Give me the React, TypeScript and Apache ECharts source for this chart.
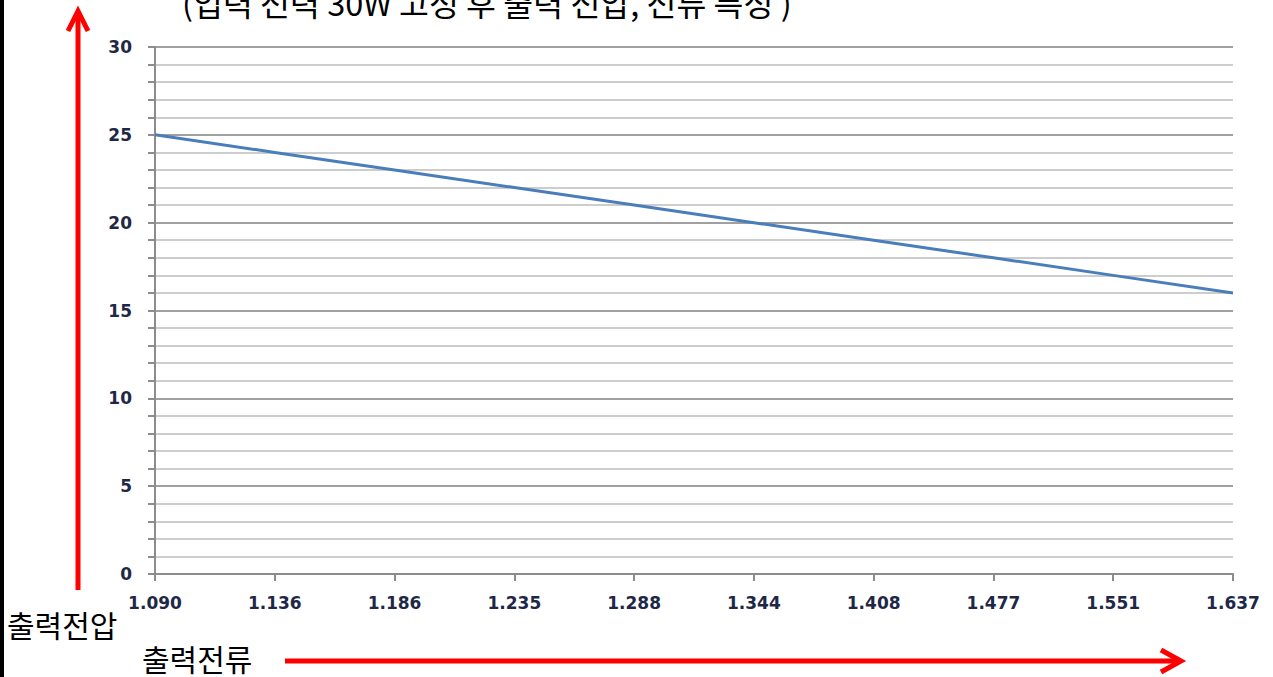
import React, { useEffect, useRef } from "react";
import * as echarts from "echarts";

const categories = ["1.090", "1.136", "1.186", "1.235", "1.288", "1.344", "1.408", "1.477", "1.551", "1.637"];
const voltage = [25, 24, 23, 22, 21, 20, 19, 18, 17, 16];
const titleText = "(입력 전력 30W 고정 후 출력 전압, 전류 특성 )";
const yLabel = "출력전압";
const xLabel = "출력전류";

export default function App() {
  const ref = useRef<HTMLDivElement>(null);
  useEffect(() => {
    if (!ref.current) return;
    const chart = echarts.init(ref.current, null, { renderer: "svg" });
    const red = "#ff0000";
    const labelStyle = {
      color: "#1e2846",
      fontFamily: "DejaVu Sans",
      fontSize: 17,
      fontWeight: "bold",
    };
    chart.setOption({
      animation: false,
      backgroundColor: "#ffffff",
      grid: { left: 155, right: 40, top: 47, bottom: 103, containLabel: false },
      xAxis: {
        type: "category",
        data: categories,
        boundaryGap: false,
        axisLine: { lineStyle: { color: "#8c8c8c", width: 2 } },
        axisTick: { show: true, length: 7, lineStyle: { color: "#8c8c8c", width: 2 } },
        axisLabel: {
          ...labelStyle,
          margin: 20,
          showMinLabel: true,
          showMaxLabel: true,
          interval: 0,
        },
        splitLine: { show: false },
      },
      yAxis: {
        type: "value",
        min: 0,
        max: 30,
        interval: 5,
        axisLine: { show: true, lineStyle: { color: "#8c8c8c", width: 2 } },
        axisTick: { show: true, length: 7, lineStyle: { color: "#8c8c8c", width: 2 } },
        minorTick: { show: true, splitNumber: 5, length: 7, lineStyle: { color: "#8c8c8c", width: 2 } },
        axisLabel: {
          ...labelStyle,
          margin: 23,
        },
        splitLine: { show: true, lineStyle: { color: "#a0a0a0", width: 2 } },
        minorSplitLine: { show: true, lineStyle: { color: "#cdcdcd", width: 2 } },
      },
      series: [
        {
          type: "line",
          data: voltage,
          showSymbol: false,
          symbol: "none",
          lineStyle: { color: "#4a7ebb", width: 3 },
        },
      ],
      graphic: [
        { type: "rect", shape: { x: 0, y: 0, width: 4, height: 677 }, style: { fill: "#000" } },
        {
          type: "text",
          x: 182,
          y: 1,
          style: {
            text: titleText,
            font: "32.5px 'Noto Sans CJK KR'",
            fill: "#000",
            verticalAlign: "middle",
            align: "left",
          },
        },
        {
          type: "line",
          shape: { x1: 78, y1: 590, x2: 78, y2: 12 },
          style: { stroke: red, lineWidth: 5 },
        },
        {
          type: "polyline",
          shape: { points: [[68, 31], [78, 11], [88, 31]] },
          style: { stroke: red, lineWidth: 5, fill: "none", lineJoin: "miter" },
        },
        {
          type: "line",
          shape: { x1: 285, y1: 661, x2: 1180, y2: 661 },
          style: { stroke: red, lineWidth: 5 },
        },
        {
          type: "polyline",
          shape: { points: [[1161, 650], [1181, 661], [1161, 672]] },
          style: { stroke: red, lineWidth: 5, fill: "none", lineJoin: "miter" },
        },
        {
          type: "text",
          x: 7,
          y: 624,
          style: { text: yLabel, font: "30px 'Noto Sans CJK KR'", fill: "#000", verticalAlign: "middle" },
        },
        {
          type: "text",
          x: 142,
          y: 658,
          style: { text: xLabel, font: "30px 'Noto Sans CJK KR'", fill: "#000", verticalAlign: "middle" },
        },
      ],
    });
    return () => chart.dispose();
  }, []);
  return (
    <div
      ref={ref}
      style={{ position: "fixed", left: 0, top: 0, width: 1273, height: 677 }}
    />
  );
}
